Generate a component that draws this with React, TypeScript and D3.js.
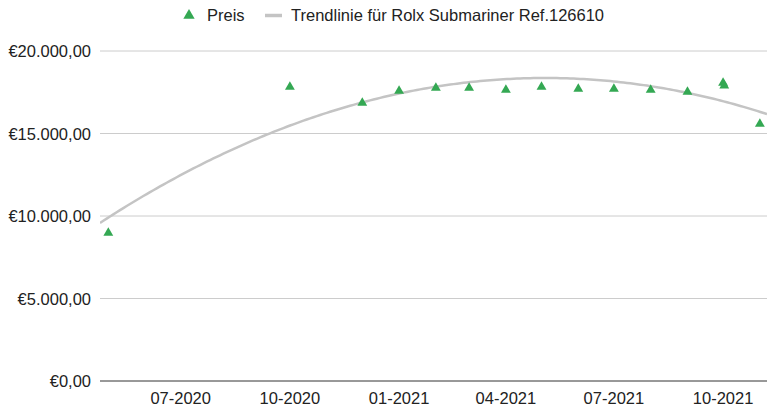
import React from "react";
import * as d3 from "d3";

// monthly price observations
const dates = [
  "2020-05-01", "2020-10-01", "2020-12-01", "2021-01-01", "2021-02-01",
  "2021-03-01", "2021-04-01", "2021-05-01", "2021-06-01", "2021-07-01",
  "2021-08-01", "2021-09-01", "2021-10-01", "2021-10-02", "2021-11-01",
];
const prices = [
  8970, 17820, 16850, 17580, 17760,
  17760, 17640, 17820, 17700, 17700,
  17640, 17520, 18060, 17900, 15580,
];
const yTicks = [0, 5000, 10000, 15000, 20000];
const xTickDates = ["2020-07-01", "2020-10-01", "2021-01-01", "2021-04-01", "2021-07-01", "2021-10-01"];
const seriesName = "Preis";
const trendName = "Trendlinie für Rolx Submariner Ref.126610";

const W = 767, H = 407;
const left = 100, right = 767, top = 51, bottom = 381;
const green = "#34a853";
const trendColor = "#c4c4c4";
const font = "'Liberation Sans', Arial, sans-serif";
const fs = 16.5;

const parse = d3.utcParse("%Y-%m-%d");

// least squares fit of y = a + b*t + c*t^2
function quadFit(ts: number[], ys: number[]) {
  const S = [0, 0, 0, 0, 0];
  const T = [0, 0, 0];
  ts.forEach((t, i) => {
    for (let k = 0; k < 5; k++) S[k] += Math.pow(t, k);
    for (let k = 0; k < 3; k++) T[k] += ys[i] * Math.pow(t, k);
  });
  const M = [
    [S[0], S[1], S[2], T[0]],
    [S[1], S[2], S[3], T[1]],
    [S[2], S[3], S[4], T[2]],
  ];
  for (let i = 0; i < 3; i++) {
    for (let j = i + 1; j < 3; j++) {
      const f = M[j][i] / M[i][i];
      for (let k = i; k < 4; k++) M[j][k] -= f * M[i][k];
    }
  }
  const c = [0, 0, 0];
  for (let i = 2; i >= 0; i--) {
    let s = M[i][3];
    for (let k = i + 1; k < 3; k++) s -= M[i][k] * c[k];
    c[i] = s / M[i][i];
  }
  return (t: number) => c[0] + c[1] * t + c[2] * t * t;
}

const euro = (v: number) =>
  "€" + d3.format(",.2f")(v).replace(/,/g, "#").replace(/\./g, ",").replace(/#/g, ".");

const tri = d3.symbol().type(d3.symbolTriangle).size(42);

export default function App() {
  const pts = dates.map((d, i) => ({ date: parse(d)!, value: prices[i] }));

  const x = d3.scaleUtc()
    .domain([parse("2020-04-24")!, parse("2021-11-07")!])
    .range([left, right]);
  const y = d3.scaleLinear().domain([0, 20000]).range([bottom, top]);

  const t0 = pts[0].date.getTime();
  const day = 86400000;
  const fit = quadFit(pts.map(p => (p.date.getTime() - t0) / day / 100), prices);
  const [d0, d1] = x.domain();
  const trendPts = d3.range(0, 201).map(i => {
    const t = new Date(d0.getTime() + (d1.getTime() - d0.getTime()) * i / 200);
    return { date: t, value: fit((t.getTime() - t0) / day / 100) };
  });
  const line = d3.line<{ date: Date; value: number }>()
    .x(d => x(d.date))
    .y(d => y(d.value));

  return (
    <svg width={W} height={H} style={{ position: "absolute", left: 0, top: 0 }} fontFamily={font}>
      <rect width={W} height={H} fill="#fff" />
      <defs>
        <clipPath id="plot">
          <rect x={left} y={0} width={right - left} height={bottom} />
        </clipPath>
      </defs>

      {/* legend */}
      <g>
        <path d={tri()!} transform="translate(189,15.5) scale(1.15)" fill={green} />
        <text x={207} y={21} fontSize={fs} fill="#222">{seriesName}</text>
        <line x1={265} x2={282} y1={15.5} y2={15.5} stroke={trendColor} strokeWidth={3.5} />
        <text x={291} y={21} fontSize={fs} fill="#222">{trendName}</text>
      </g>

      {/* grid + y labels */}
      {yTicks.map(v => (
        <g key={v}>
          <line x1={left} x2={right} y1={y(v)} y2={y(v)}
            stroke={v === 0 ? "#333" : "#ccc"} strokeWidth={1} />
          <text x={91} y={y(v) + 6} fontSize={fs} fill="#222" textAnchor="end">{euro(v)}</text>
        </g>
      ))}

      {/* x labels */}
      {xTickDates.map(s => {
        const d = parse(s)!;
        return (
          <text key={s} x={x(d)} y={404} fontSize={fs} fill="#222" textAnchor="middle">
            {d3.utcFormat("%m-%Y")(d)}
          </text>
        );
      })}

      {/* trendline */}
      <path d={line(trendPts)!} fill="none" stroke={trendColor} strokeWidth={2.5} clipPath="url(#plot)" />

      {/* points */}
      {pts.map((p, i) => (
        <path key={i} d={tri()!} transform={`translate(${x(p.date)},${y(p.value)})`} fill={green} />
      ))}
    </svg>
  );
}
